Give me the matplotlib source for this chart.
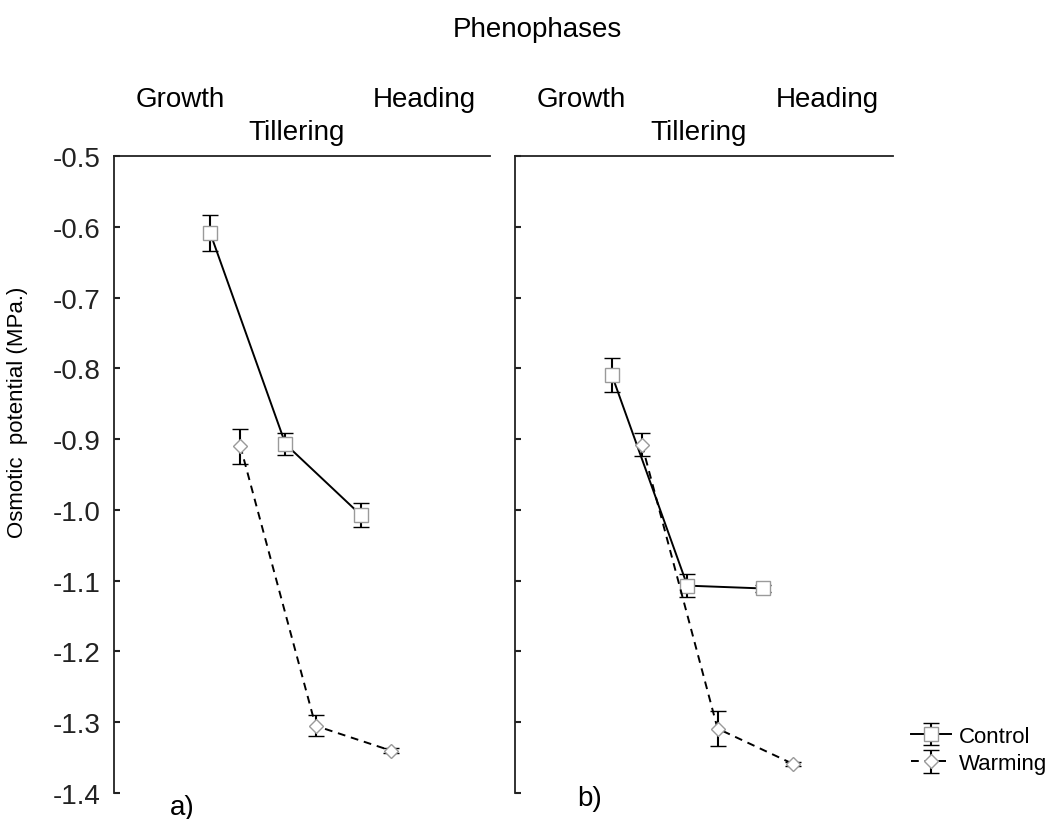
import matplotlib
matplotlib.use("Agg")
import matplotlib.pyplot as plt

plt.rcParams["font.family"] = ["Liberation Sans", "DejaVu Sans"]

# ─────────────────────────────────────────────────────────────
# DATA
# ─────────────────────────────────────────────────────────────
phases = ["Growth", "Tillering", "Heading"]
phase_pos = [1.5, 2.5, 3.5]
label_pos = [0.88, 2.43, 4.13]

control_a = [-0.609, -0.907, -1.007]
control_a_err = [0.025, 0.016, 0.017]
warming_a = [-0.910, -1.305, -1.340]
warming_a_err = [0.025, 0.015, 0.004]

control_b = [-0.809, -1.107, -1.111]
control_b_err = [0.024, 0.016, 0.005]
warming_b = [-0.908, -1.309, -1.359]
warming_b_err = [0.016, 0.025, 0.003]

yticks = [-0.5, -0.6, -0.7, -0.8, -0.9, -1.0, -1.1, -1.2, -1.3, -1.4]

CTRL_OFF = -0.22
WARM_OFF = 0.18


def draw_panel(ax, ctrl, ctrl_err, warm, warm_err, show_labels):
    xc = [p + CTRL_OFF for p in phase_pos]
    xw = [p + WARM_OFF for p in phase_pos]
    common = dict(ecolor="black", elinewidth=1.5, capsize=6, capthick=1.5,
                  color="black", lw=1.4, mfc="white", mec="#9a9a9a", mew=1.0)
    hc = ax.errorbar(xc, ctrl, yerr=ctrl_err, marker="s", ms=10,
                     linestyle="-", label="Control", **common)
    hw = ax.errorbar(xw, warm, yerr=warm_err, marker="D", ms=7.5,
                     linestyle=(0, (4, 3)), label="Warming", **common)

    ax.set_xlim(0, 5)
    ax.set_ylim(-1.4, -0.5)
    ax.set_yticks(yticks)
    ax.set_yticklabels([f"{v:.1f}" for v in yticks] if show_labels else [])
    ax.tick_params(axis="y", direction="in", length=4, width=1.5,
                   labelsize=20, pad=10, colors="#222222")

    # phase names sit on top, staggered over two rows
    ax.xaxis.tick_top()
    ax.set_xticks(label_pos)
    ax.set_xticklabels([phases[0] + "\n", phases[1], phases[2] + "\n"])
    ax.tick_params(axis="x", length=0, labelsize=20, pad=8)
    for lbl in ax.get_xticklabels():
        lbl.set_linespacing(1.35)

    for side in ("bottom", "right"):
        ax.spines[side].set_visible(False)
    for side in ("top", "left"):
        ax.spines[side].set_linewidth(1.3)
        ax.spines[side].set_color("#222222")
    return hc, hw


fig = plt.figure(figsize=(10.54, 8.2), dpi=100)
ax_a = fig.add_axes([0.1082, 0.0317, 0.3567, 0.7768])
ax_b = fig.add_axes([0.4886, 0.0317, 0.3586, 0.7768])

hc, hw = draw_panel(ax_a, control_a, control_a_err, warming_a, warming_a_err, True)
draw_panel(ax_b, control_b, control_b_err, warming_b, warming_b_err, False)

ax_a.set_ylabel("Osmotic  potential (MPa.)", fontsize=16)
ax_a.yaxis.set_label_coords(-0.228, 0.6)

fig.text(0.51, 0.963, "Phenophases", ha="center", va="center", fontsize=20)
fig.text(0.161, 0.015, "a)", ha="left", va="center", fontsize=20)
fig.text(0.548, 0.025, "b)", ha="left", va="center", fontsize=20)

fig.legend([hc, hw], ["Control", "Warming"], loc="upper left",
           bbox_to_anchor=(0.864, 0.114), frameon=False, fontsize=16,
           handlelength=1.8, handletextpad=0.35, labelspacing=0.3,
           borderaxespad=0, borderpad=0)

fig.savefig("out.png", dpi=100, facecolor="white")
